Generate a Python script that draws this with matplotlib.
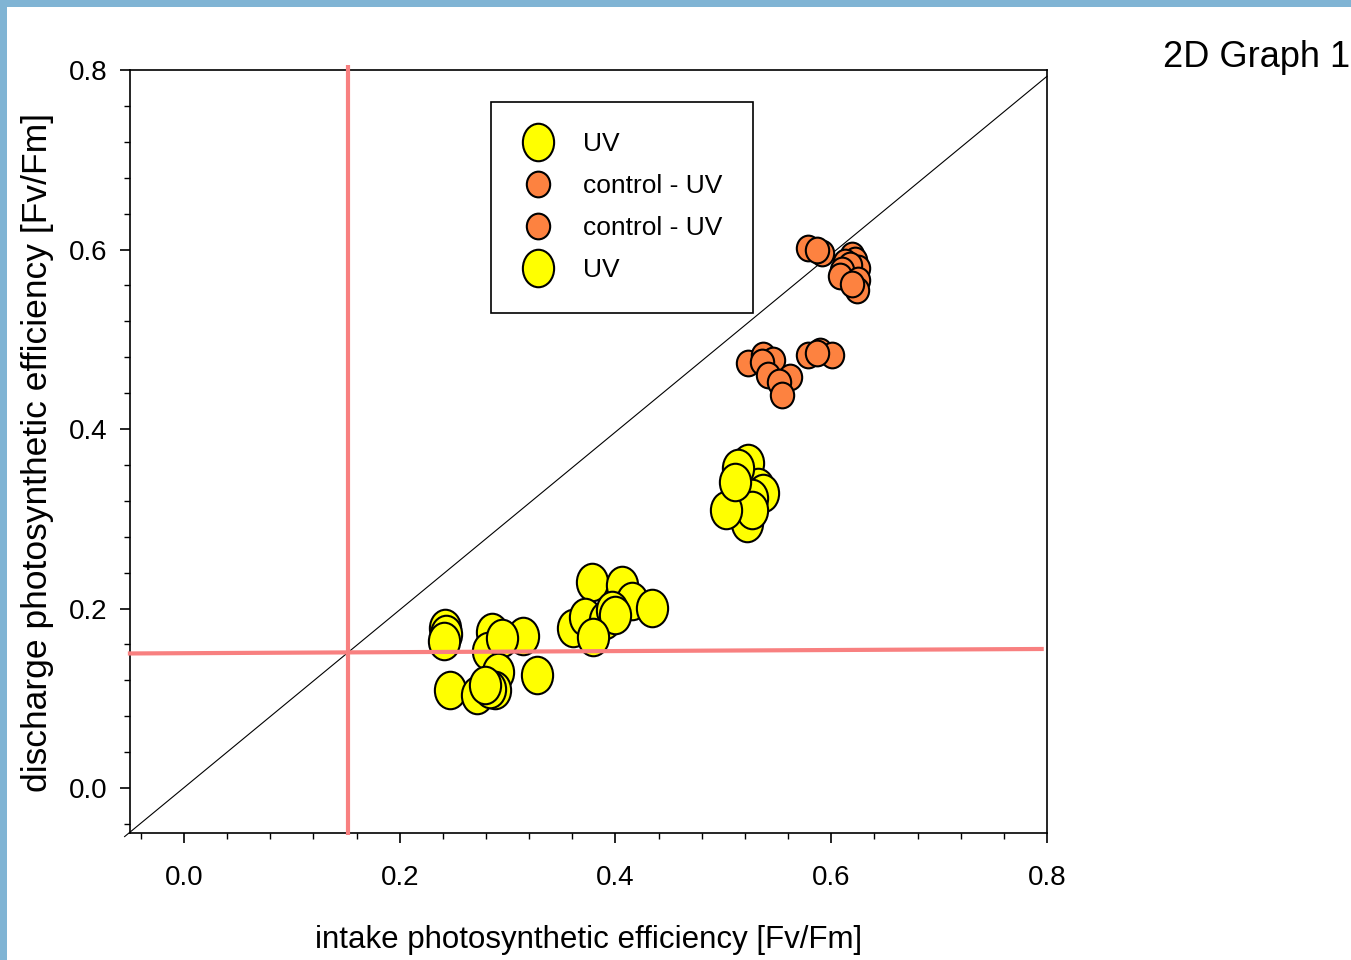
import matplotlib.pyplot as plt
from matplotlib.path import Path
from matplotlib.transforms import Affine2D
from matplotlib.patches import Rectangle
from matplotlib.ticker import MultipleLocator, FormatStrFormatter

# intake / discharge Fv/Fm values
uv_a_x = [0.242, 0.243, 0.241, 0.286, 0.314, 0.282, 0.295, 0.291, 0.327, 0.247, 0.272,
          0.288, 0.284, 0.279,
          0.378, 0.406, 0.415, 0.434, 0.361, 0.372, 0.390, 0.397, 0.400, 0.379]
uv_a_y = [0.178, 0.172, 0.164, 0.174, 0.170, 0.153, 0.167, 0.129, 0.126, 0.109, 0.104,
          0.109, 0.110, 0.115,
          0.230, 0.226, 0.209, 0.201, 0.178, 0.191, 0.187, 0.198, 0.193, 0.168]

ctrl_a_x = [0.523, 0.537, 0.546, 0.536, 0.562, 0.541, 0.552, 0.554,
            0.578, 0.590, 0.601, 0.587]
ctrl_a_y = [0.474, 0.482, 0.477, 0.475, 0.458, 0.460, 0.452, 0.438,
            0.482, 0.487, 0.482, 0.485]

ctrl_b_x = [0.578, 0.591, 0.587, 0.619, 0.622, 0.613, 0.625, 0.617, 0.610, 0.608,
            0.625, 0.624, 0.619]
ctrl_b_y = [0.602, 0.596, 0.599, 0.594, 0.588, 0.586, 0.579, 0.583, 0.577, 0.570,
            0.566, 0.555, 0.562]

uv_b_x = [0.523, 0.532, 0.537, 0.527, 0.522, 0.527, 0.502, 0.514, 0.511]
uv_b_y = [0.362, 0.335, 0.329, 0.323, 0.295, 0.310, 0.310, 0.357, 0.341]

legend_labels = ["UV", "control - UV", "control - UV", "UV"]

# reference lines
diag_x = [-0.055, 0.8]
diag_y = [-0.054, 0.793]
vline_x = [0.152, 0.152]
vline_y = [-0.052, 0.806]
hline_x = [-0.052, 0.797]
hline_y = [0.150, 0.155]

plt.rcParams['font.family'] = ['Liberation Sans', 'DejaVu Sans']

yellow = "#ffff00"
orange = "#fd8240"
salmon = "#f88080"


def ellipse(ratio):
    return Path.unit_circle().transformed(Affine2D().scale(1.0, ratio))


big = ellipse(1.2)
small = ellipse(1.1)

fig = plt.figure(figsize=(13.51, 9.6), dpi=100)
ax = fig.add_axes([130 / 1351, 1 - 833 / 960, 917 / 1351, 763 / 960])

ax.plot(diag_x, diag_y, "-", color="black", linewidth=0.8, zorder=2, clip_on=False)

series = [
    (uv_a_x, uv_a_y, yellow, big, 27),
    (ctrl_a_x, ctrl_a_y, orange, small, 18.5),
    (ctrl_b_x, ctrl_b_y, orange, small, 18.5),
    (uv_b_x, uv_b_y, yellow, big, 27),
]
handles = []
for (xs, ys, col, mk, ms), lab in zip(series, legend_labels):
    h, = ax.plot(xs, ys, linestyle="none", marker=mk, markersize=ms, markerfacecolor=col,
                 markeredgecolor="black", markeredgewidth=1.5, zorder=3, label=lab)
    handles.append(h)

ax.plot(vline_x, vline_y, "-", color=salmon, linewidth=3, zorder=4, clip_on=False,
        solid_capstyle="butt")
ax.plot(hline_x, hline_y, "-", color=salmon, linewidth=3, zorder=4, clip_on=False,
        solid_capstyle="butt")

ax.set_xlim(-0.05, 0.8)
ax.set_ylim(-0.05, 0.8)
for axis in (ax.xaxis, ax.yaxis):
    axis.set_major_locator(MultipleLocator(0.2))
    axis.set_minor_locator(MultipleLocator(0.04))
    axis.set_major_formatter(FormatStrFormatter("%.1f"))
ax.tick_params(which="major", length=7, width=1.2, labelsize=20)
ax.tick_params(axis="x", which="major", pad=16)
ax.tick_params(axis="y", which="major", pad=9)
ax.tick_params(which="minor", length=4.5, width=1.0)
for sp in ax.spines.values():
    sp.set_linewidth(1.2)

leg = ax.legend(handles=handles, loc="upper left", bbox_to_anchor=(491 / 1351, 1 - 102 / 960),
                bbox_transform=fig.transFigure, fontsize=19, frameon=True, fancybox=False,
                borderpad=1.15, handlelength=1.25, handletextpad=1.08, labelspacing=0.68,
                borderaxespad=0)
leg.get_frame().set_edgecolor("black")
leg.get_frame().set_linewidth(1.2)
leg.get_frame().set_alpha(1)

fig.text(589 / 1351, 1 - 940 / 960, "intake photosynthetic efficiency [Fv/Fm]",
         fontsize=22.5, ha="center", va="center")
fig.text(38 / 1351, 1 - 452 / 960, "discharge photosynthetic efficiency [Fv/Fm]",
         fontsize=25.5, ha="center", va="center", rotation=90)
fig.text(1163 / 1351, 1 - 67 / 960, "2D Graph 1", fontsize=26, ha="left", va="baseline")

# blue border at top and left
border = "#80b4d4"
fig.patches.append(Rectangle((0, 1 - 7 / 960), 1, 7 / 960, transform=fig.transFigure,
                             facecolor=border, edgecolor="none"))
fig.patches.append(Rectangle((0, 0), 7 / 1351, 1, transform=fig.transFigure,
                             facecolor=border, edgecolor="none"))

fig.savefig("out.png", dpi=100)
